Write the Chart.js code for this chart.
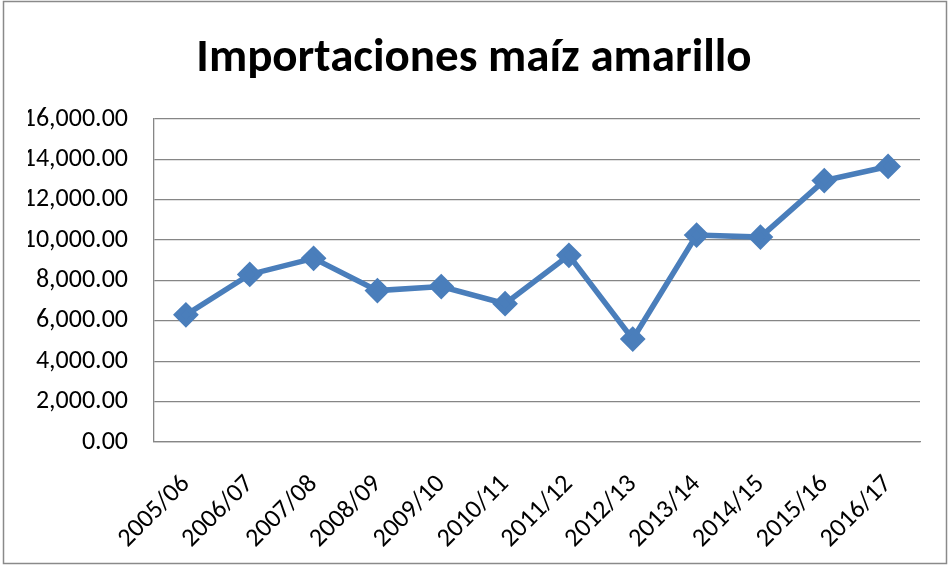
<!DOCTYPE html>
<html>
<head>
<meta charset="utf-8">
<script src="https://cdn.jsdelivr.net/npm/chart.js@4"></script>
<style>
  html, body { margin: 0; padding: 0; background: #fff; }
  #wrap { width: 949px; height: 566px; position: relative; }
</style>
</head>
<body>
<div id="wrap"><canvas id="chart"></canvas></div>
<script>
const campanas = ['2005/06', '2006/07', '2007/08', '2008/09', '2009/10', '2010/11',
                  '2011/12', '2012/13', '2013/14', '2014/15', '2015/16', '2016/17']
const importaciones = [6300, 8300, 9100, 7500, 7700, 6850, 9250, 5100, 10250, 10150, 12950, 13650]
const titulo = 'Importaciones maíz amarillo'

const fuente = 'Carlito, Lato, sans-serif'

// marco gris alrededor de todo el grafico
const marco = {
    id: 'marco',
    afterDraw(chart) {
        let ctx = chart.ctx
        ctx.save()
        ctx.strokeStyle = '#8a8a8a'
        ctx.lineWidth = 1.5
        ctx.strokeRect(3.5, 1.5, 943, 562)
        ctx.restore()
    }
}

const data = {
    labels: campanas,
    datasets: [{
        label: titulo,
        data: importaciones,
        borderColor: '#4a7ebb',
        backgroundColor: '#4a7ebb',
        borderWidth: 5.5,
        pointStyle: 'rectRot',
        pointRadius: 9,
        pointHoverRadius: 9,
        tension: 0
    }]
}

const config = {
    type: 'line',
    data,
    options: {
        responsive: true,
        maintainAspectRatio: false,
        animation: false,
        layout: {
            padding: { top: 31, right: 29, bottom: 0, left: 28 }
        },
        plugins: {
            legend: { display: false },
            tooltip: { enabled: false },
            title: {
                display: true,
                text: titulo,
                color: '#000',
                font: { family: fuente, size: 47, weight: 'bold' },
                padding: { top: 0, bottom: 31.6 }
            }
        },
        scales: {
            x: {
                offset: true,
                grid: { display: false, drawTicks: false },
                border: { display: true, color: '#868686', width: 1.3 },
                ticks: {
                    color: '#000',
                    font: { family: fuente, size: 26 },
                    minRotation: 45,
                    maxRotation: 45,
                    padding: 27
                },
                afterFit: (scale) => { scale.height = 124 }
            },
            y: {
                min: 0,
                max: 16000,
                grid: { color: '#868686', lineWidth: 1.3, drawTicks: false },
                border: { display: true, color: '#868686', width: 1.3 },
                ticks: {
                    stepSize: 2000,
                    color: '#000',
                    padding: 26,
                    font: { family: fuente, size: 26 },
                    callback: (v) => v.toLocaleString('en-US', { minimumFractionDigits: 2, maximumFractionDigits: 2 })
                },
                afterFit: (scale) => { scale.width = 126 }
            }
        }
    },
    plugins: [marco]
}

new Chart(document.getElementById('chart'), config)
</script>
</body>
</html>
